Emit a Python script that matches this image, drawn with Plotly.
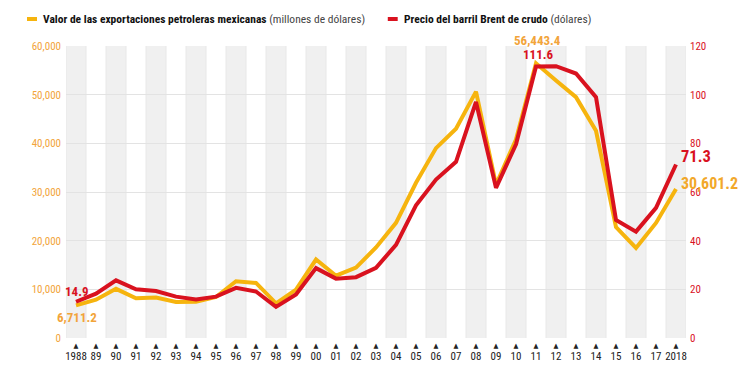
import plotly.graph_objects as go

years = list(range(1988, 2019))
year_labels = ["1988", "89", "90", "91", "92", "93", "94", "95", "96", "97", "98", "99",
               "00", "01", "02", "03", "04", "05", "06", "07", "08", "09", "10", "11",
               "12", "13", "14", "15", "16", "17", "2018"]
exports = [6711.2, 7876, 10104, 8166, 8307, 7418, 7445, 8423, 11654, 11323, 7134, 9928,
           16124, 12799, 14476, 18597, 23666, 31889, 39017, 43014, 50635, 31500, 40800,
           56443.4, 52892, 49493, 42586, 22800, 18500, 23634, 30601.2]
brent = [14.9, 18.2, 23.7, 20.0, 19.3, 17.0, 15.8, 17.0, 20.6, 19.1, 12.8, 17.9,
         28.7, 24.4, 25.0, 28.8, 38.3, 54.5, 65.1, 72.4, 97.0, 61.7, 79.6, 111.6,
         111.7, 108.7, 99.0, 48.5, 43.7, 53.5, 71.3]
left_ticks = [0, 10000, 20000, 30000, 40000, 50000, 60000]
right_ticks = [0, 20, 40, 60, 80, 100, 120]

YEL = "#F6B40E"
RED = "#D9121F"
LTXT = "#F2A43A"
FONT = "Roboto Condensed, Liberation Sans Narrow, DejaVu Sans Condensed, Roboto, sans-serif"

fig = go.Figure()
fig.add_trace(go.Scatter(x=years, y=exports, mode="lines", line=dict(color=YEL, width=4),
                         showlegend=False, yaxis="y"))
fig.add_trace(go.Scatter(x=years, y=brent, mode="lines", line=dict(color=RED, width=4),
                         showlegend=False, yaxis="y2"))

shapes = []
for yr in years:
    if yr % 2 == 0:
        shapes.append(dict(type="rect", xref="x", yref="y domain", x0=yr - 0.5, x1=yr + 0.5,
                           y0=0, y1=1, fillcolor="#F0F0F0", line=dict(width=0), layer="below"))
    shapes.append(dict(type="line", xref="x", yref="y domain", x0=yr - 0.5, x1=yr - 0.5,
                       y0=0, y1=1, line=dict(color="#E8E8E8", width=1), layer="below"))
shapes.append(dict(type="line", xref="x", yref="y domain", x0=years[-1] + 0.5, x1=years[-1] + 0.5,
                   y0=0, y1=1, line=dict(color="#E8E8E8", width=1), layer="below"))
# legend markers
shapes.append(dict(type="line", xref="paper", yref="paper", x0=-0.0629, x1=-0.0468, y0=1.0925, y1=1.0925,
                   line=dict(color=YEL, width=4)))
shapes.append(dict(type="line", xref="paper", yref="paper", x0=0.519, x1=0.535, y0=1.0925, y1=1.0925,
                   line=dict(color=RED, width=4)))

annotations = [
    dict(xref="paper", yref="paper", x=-0.041, y=1.0925, xanchor="left", yanchor="middle",
         showarrow=False, font=dict(family=FONT, size=11.5, color="#111"),
         text="<b>Valor de las exportaciones petroleras mexicanas</b> <span style='color:#444'>(millones de dólares)</span>"),
    dict(xref="paper", yref="paper", x=0.542, y=1.0925, xanchor="left", yanchor="middle",
         showarrow=False, font=dict(family=FONT, size=11.5, color="#111"),
         text="<b>Precio del barril Brent de crudo</b> <span style='color:#444'>(dólares)</span>"),
    # value labels
    dict(x=years[0], y=brent[0], xref="x", yref="y2", text="<b>14.9</b>", showarrow=False,
         yshift=10, xshift=1, font=dict(family=FONT, size=13, color=RED)),
    dict(x=years[0], y=exports[0], xref="x", yref="y", text="<b>6,711.2</b>", showarrow=False,
         yshift=-12, xshift=1, font=dict(family=FONT, size=13, color=LTXT)),
    dict(x=years[23], y=exports[23], xref="x", yref="y", text="<b>56,443.4</b>", showarrow=False,
         yshift=23, xshift=1, font=dict(family=FONT, size=13, color=LTXT)),
    dict(x=years[23], y=brent[23], xref="x", yref="y2", text="<b>111.6</b>", showarrow=False,
         yshift=12, xshift=2, font=dict(family=FONT, size=13, color=RED)),
    dict(x=years[-1], y=brent[-1], xref="x", yref="y2", text="<b>71.3</b>", showarrow=False,
         xanchor="left", xshift=3, yshift=8, font=dict(family=FONT, size=16.5, color=RED)),
    dict(x=years[-1], y=exports[-1], xref="x", yref="y", text="<b>30,601.2</b>", showarrow=False,
         xanchor="left", xshift=3, yshift=6, font=dict(family=FONT, size=16, color="#F2A82A")),
]

ticktext = ["<span style='font-size:7px'>▲</span><br><span style='font-size:11px'>" + t + "</span>"
            for t in year_labels]

fig.update_layout(
    width=754, height=370,
    margin=dict(l=58, r=76, t=38, b=40),
    paper_bgcolor="white", plot_bgcolor="white",
    font=dict(family=FONT, size=11, color="#222"),
    shapes=shapes, annotations=annotations,
    xaxis=dict(range=[1987.5, 2018.5], tickmode="array", tickvals=years,
               ticktext=ticktext, showgrid=False, zeroline=False,
               ticks="", tickfont=dict(size=9, color="#222"), showline=False),
    yaxis=dict(range=[0, 60000], tickvals=left_ticks, tickformat=",", showgrid=True,
               gridcolor="#E3E3E3", gridwidth=1, zeroline=False,
               tickfont=dict(size=11, color=LTXT), ticks="", ticklabelstandoff=4),
    yaxis2=dict(range=[0, 120], tickvals=right_ticks, overlaying="y", side="right",
                showgrid=False, zeroline=False, tickfont=dict(size=11, color=RED), ticks="",
                ticklabelstandoff=3),
)
fig.write_html("out.html")
